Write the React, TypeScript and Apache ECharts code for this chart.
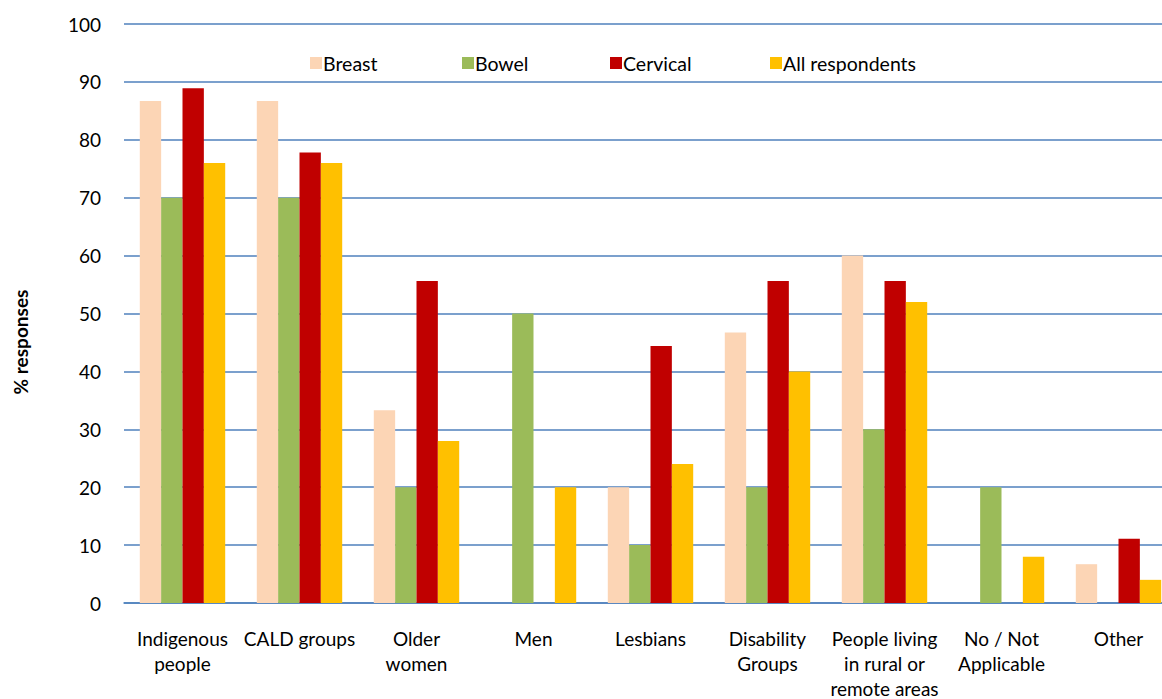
import React, { useEffect, useRef } from "react";
import * as echarts from "echarts";

const categories = [
  "Indigenous\npeople",
  "CALD groups",
  "Older\nwomen",
  "Men",
  "Lesbians",
  "Disability\nGroups",
  "People living\nin rural or\nremote areas",
  "No / Not\nApplicable",
  "Other",
];

const breast = [86.7, 86.7, 33.3, 0, 20, 46.7, 60, 0, 6.7];
const bowel = [70, 70, 20, 50, 10, 20, 30, 20, 0];
const cervical = [88.9, 77.8, 55.6, 0, 44.4, 55.6, 55.6, 0, 11.1];
const allRespondents = [76, 76, 28, 20, 24, 40, 52, 8, 4];

const seriesNames = ["Breast", "Bowel", "Cervical", "All respondents"];
const seriesColors = ["#FCD5B5", "#9BBB59", "#C00000", "#FFC000"];
const legendLefts = [305, 457, 605, 765];

const FONT = "Lato, 'Open Sans', sans-serif";

export default function App() {
  const ref = useRef<HTMLDivElement>(null);

  useEffect(() => {
    if (!ref.current) return;
    const chart = echarts.init(ref.current, null, { renderer: "svg" });
    const values = [breast, bowel, cervical, allRespondents];

    chart.setOption({
      animation: false,
      backgroundColor: "#ffffff",
      textStyle: { fontFamily: FONT },
      legend: seriesNames.map((name, i) => ({
        data: [name],
        left: legendLefts[i],
        top: 48,
        icon: "rect",
        itemWidth: 12,
        itemHeight: 12,
        itemGap: 0,
        textStyle: { fontSize: 19.5, color: "#000", fontFamily: FONT, padding: [0, 0, 0, -4] },
      })),
      grid: {
        left: 124,
        top: 24,
        width: 1053,
        height: 579,
        containLabel: false,
        outerBoundsMode: "none",
      },
      xAxis: {
        type: "category",
        data: categories,
        axisLine: { show: true, lineStyle: { color: "#4F81BD", width: 1.5 } },
        axisTick: { show: false },
        axisLabel: {
          fontSize: 19,
          lineHeight: 25,
          color: "#000",
          margin: 23,
          interval: 0,
          fontFamily: FONT,
        },
      },
      yAxis: {
        type: "value",
        min: 0,
        max: 100,
        interval: 10,
        axisLine: { show: false },
        axisTick: { show: false },
        splitLine: { lineStyle: { color: "#4F81BD", width: 1.5 } },
        axisLabel: { fontSize: 19, color: "#000", margin: 23, fontFamily: FONT },
      },
      graphic: [
        {
          type: "text",
          x: 20,
          y: 342,
          rotation: Math.PI / 2,
          style: {
            text: "% responses",
            fontSize: 19,
            fontWeight: "bold",
            fill: "#000",
            fontFamily: FONT,
            align: "center",
            verticalAlign: "middle",
          },
        },
      ],
      series: seriesNames.map((name, i) => ({
        name,
        type: "bar",
        data: values[i],
        itemStyle: { color: seriesColors[i] },
        barGap: "0%",
        barCategoryGap: "27%",
      })),
    });

    return () => chart.dispose();
  }, []);

  return (
    <div
      ref={ref}
      style={{ position: "fixed", left: 0, top: 0, width: 1162, height: 699, overflow: "hidden" }}
    />
  );
}
